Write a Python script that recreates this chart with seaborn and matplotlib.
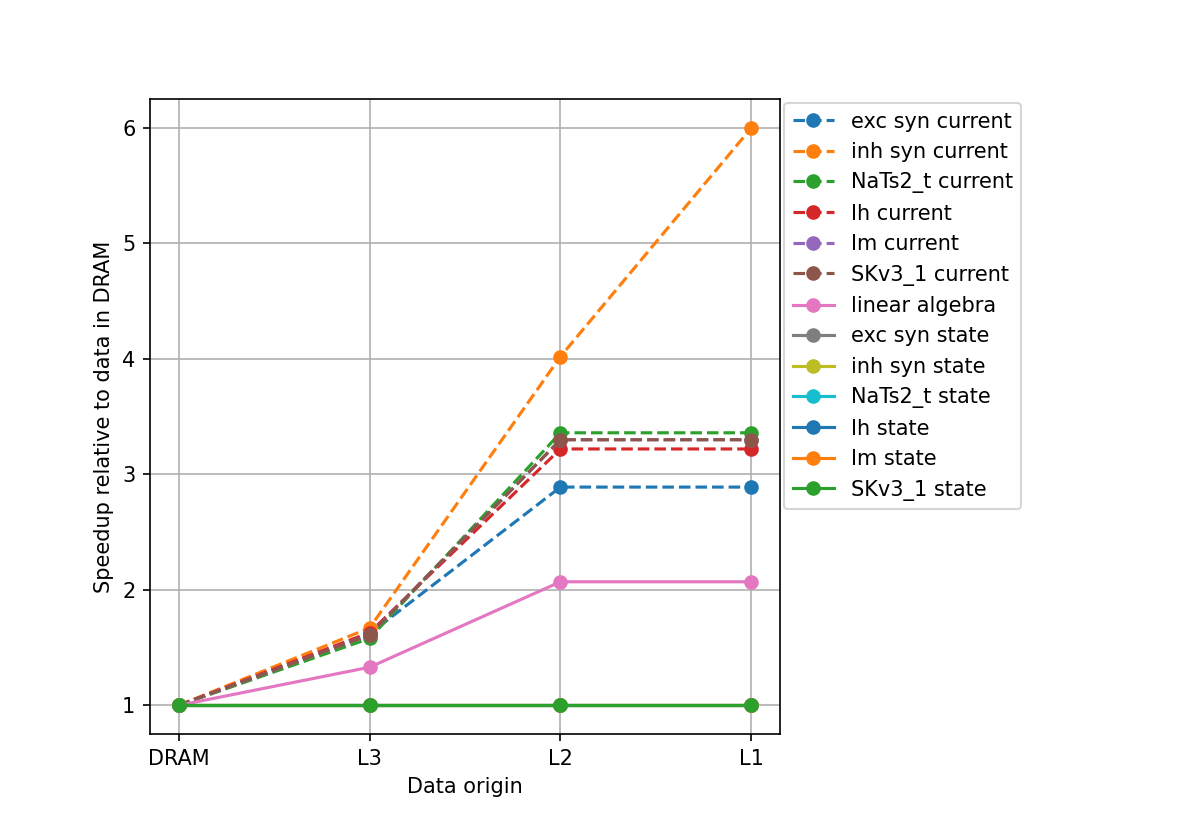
import matplotlib
matplotlib.use("Agg")
import matplotlib.pyplot as plt
import seaborn as sns

origins = ["DRAM", "L3", "L2", "L1"]

exc_syn_current = [1.0, 1.62, 2.89, 2.89]
inh_syn_current = [1.0, 1.67, 4.02, 6.0]
nats2_t_current = [1.0, 1.58, 3.36, 3.36]
ih_current = [1.0, 1.63, 3.22, 3.22]
im_current = [1.0, 1.61, 3.30, 3.30]
skv3_1_current = [1.0, 1.61, 3.30, 3.30]
linear_algebra = [1.0, 1.33, 2.07, 2.07]
exc_syn_state = [1.0, 1.0, 1.0, 1.0]
inh_syn_state = [1.0, 1.0, 1.0, 1.0]
nats2_t_state = [1.0, 1.0, 1.0, 1.0]
ih_state = [1.0, 1.0, 1.0, 1.0]
im_state = [1.0, 1.0, 1.0, 1.0]
skv3_1_state = [1.0, 1.0, 1.0, 1.0]

series = [
    ("exc syn current", exc_syn_current, "--"),
    ("inh syn current", inh_syn_current, "--"),
    ("NaTs2_t current", nats2_t_current, "--"),
    ("Ih current", ih_current, "--"),
    ("Im current", im_current, "--"),
    ("SKv3_1 current", skv3_1_current, "--"),
    ("linear algebra", linear_algebra, "-"),
    ("exc syn state", exc_syn_state, "-"),
    ("inh syn state", inh_syn_state, "-"),
    ("NaTs2_t state", nats2_t_state, "-"),
    ("Ih state", ih_state, "-"),
    ("Im state", im_state, "-"),
    ("SKv3_1 state", skv3_1_state, "-"),
]

colors = plt.rcParams['axes.prop_cycle'].by_key()['color']

fig, ax = plt.subplots(figsize=(8, 5.5), dpi=150)

for i, (name, vals, ls) in enumerate(series):
    c = colors[i % len(colors)]
    sns.lineplot(x=origins, y=vals, ax=ax, label=name, color=c,
                 linestyle=ls, marker="o", markersize=6, markeredgewidth=1,
                 markeredgecolor=c, linewidth=1.5, sort=False)

ax.grid(True)
ax.set_xlabel("Data origin")
ax.set_ylabel("Speedup relative to data in DRAM")
ax.legend(loc="upper left", bbox_to_anchor=(1, 1), borderaxespad=0.2)

plt.subplots_adjust(right=0.65)
plt.savefig("out.png", dpi=150)
plt.close()
